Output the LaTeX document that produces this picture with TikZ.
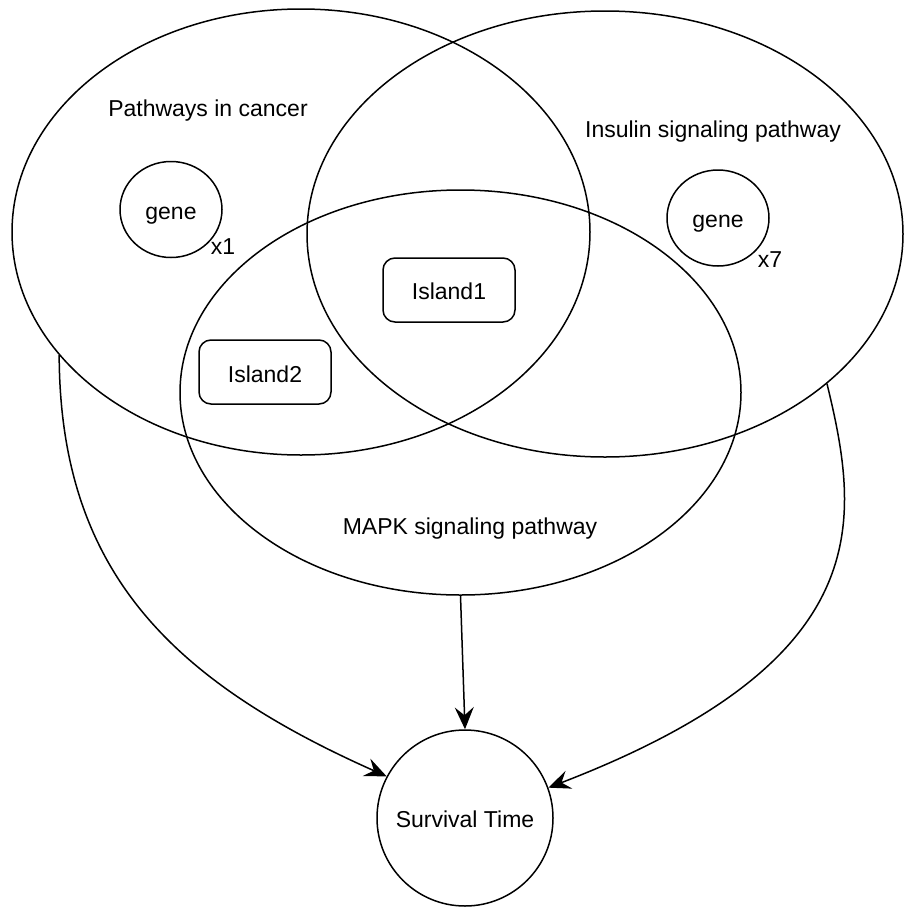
\documentclass[tikz,border=0pt]{standalone}
\usepackage{fontspec}
\setmainfont{Liberation Sans}
\usetikzlibrary{shapes.geometric,arrows.meta}
\begin{document}
\begin{tikzpicture}[x=1pt,y=-1pt,
  lw/.style={line width=1.5pt},
  setellipse/.style={draw,lw,ellipse,inner sep=0pt},
  islandbox/.style={draw,lw,rounded corners=12pt,minimum width=132pt,minimum height=64pt,inner sep=0pt},
  txt/.style={anchor=base,inner sep=0pt,font=\fontsize{23pt}{28pt}\selectfont},
  arr/.style={lw,-{Stealth[length=22pt,width=19pt,inset=8pt]}}]
\useasboundingbox (0,0) rectangle (904,910);
% big sets
\node[setellipse,minimum width=578pt,minimum height=446pt] (pc) at (301,232) {};
\node[setellipse,minimum width=596pt,minimum height=446pt] (ins) at (605,234) {};
\node[setellipse,minimum width=561pt,minimum height=405pt] (mapk) at (460.5,392.5) {};
% genes
\node[setellipse,minimum width=102pt,minimum height=96pt] (g1) at (171,209.5) {};
\node[setellipse,minimum width=102pt,minimum height=96pt] (g7) at (718,218) {};
% islands
\node[islandbox] (i1) at (449,290) {};
\node[islandbox] (i2) at (265,372) {};
% survival
\node[draw,lw,circle,minimum size=176pt,inner sep=0pt] (st) at (465,818) {};
% texts
\node[txt] (tpc) at (208,116) {Pathways in cancer};
\node[txt] (tins) at (713,137) {Insulin signaling pathway};
\node[txt] (tmapk) at (470,534) {MAPK signaling pathway};
\node[txt] (tg1) at (171,219) {gene};
\node[txt] (tg7) at (718,227) {gene};
\node[txt] (tx1) at (223,254) {x1};
\node[txt] (tx7) at (770,267) {x7};
\node[txt] (ti1) at (449,299) {Island1};
\node[txt] (ti2) at (265,382) {Island2};
\node[txt] (tst) at (465,827) {Survival Time};
% connectors
\draw[arr] (pc.207) .. controls (60,570) and (170,680) .. (st.152);
\draw[arr] (mapk.south) -- (st.north);
\draw[arr] (ins.326) .. controls (860,520) and (880,660) .. (st.20);
\end{tikzpicture}
\end{document}
